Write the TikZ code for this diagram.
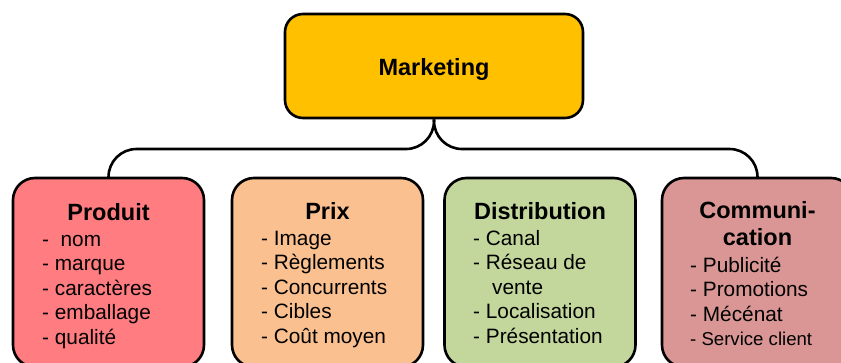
\documentclass[tikz,border=0pt]{standalone}
\usepackage{fontspec}
\setmainfont{Liberation Sans}
\usetikzlibrary{positioning}
\tikzset{catbox/.style = {draw, line width = 2.6pt, rounded corners = 22, minimum width = 191, minimum height = 189, inner sep = 0}}
\tikzset{title/.style = {font = \bfseries\fontsize{23.5}{26}\selectfont, anchor = base, inner sep = 0}}
\tikzset{item/.style = {font = \fontsize{20.8}{24.5}\selectfont, anchor = base west, inner sep = 0}}
\tikzset{link/.style = {line width = 2.6pt, rounded corners = 28}}
\definecolor{mgold}{HTML}{FFC000}
\definecolor{mprod}{HTML}{FF7C80}
\definecolor{mprix}{HTML}{FAC090}
\definecolor{mdist}{HTML}{C3D69B}
\definecolor{mcomm}{HTML}{D99694}

\begin{document}
\begin{tikzpicture}[x = 1pt, y = -1pt]
        \useasboundingbox (0, 0) rectangle (841, 362);
        \clip (0, 0) rectangle (841, 362);
        \node [catbox, fill = mgold, minimum width = 298, minimum height = 104, rounded corners = 18] (mkt) at (434, 66) {};
        \node [title] (mkt-title) at (434, 75) {Marketing};
        \node [catbox, fill = mprod] (produit) at (108.5, 272.5) {};
        \node [catbox, fill = mprix] (prix) at (327.5, 272.5) {};
        \node [catbox, fill = mdist] (distrib) at (540, 272.5) {};
        \node [catbox, fill = mcomm] (comm) at (757.5, 272.5) {};
        \coordinate (split) at (434, 149);
        \draw [link] (mkt.south) |- (split -| produit.north) -- (produit.north);
        \draw [link] (mkt.south) |- (split -| comm.north) -- (comm.north);
        \node [title] (produit-title) at (108.5, 220) {Produit};
        \foreach \t [count = \i] in {-\ \ nom, - marque, - caractères, - emballage, - qualité}
          \node [item] (produit-\i) at (42, 221.5 + 24.5 * \i) {\t};
        \node [title] (prix-title) at (327.5, 219) {Prix};
        \foreach \t [count = \i] in {- Image, - Règlements, - Concurrents, - Cibles, - Coût moyen}
          \node [item] (prix-\i) at (261, 220.5 + 24.5 * \i) {\t};
        \node [title] (distrib-title) at (540, 219) {Distribution};
        \foreach \t [count = \i] in {- Canal, - Réseau de, \hspace*{19pt}vente, - Localisation, - Présentation}
          \node [item] (distrib-\i) at (473, 220.5 + 24.5 * \i) {\t};
        \node [title] (comm-title) at (757.5, 218) {Communi-};
        \node [title] (comm-title2) at (757.5, 245) {cation};
        \foreach \t [count = \i] in {- Publicité, - Promotions, - Mécénat, {\fontsize{18.6}{20}\selectfont - Service client}}
          \node [item] (comm-\i) at (690, 247.5 + 24.5 * \i) {\t};
      \end{tikzpicture}
\end{document}
